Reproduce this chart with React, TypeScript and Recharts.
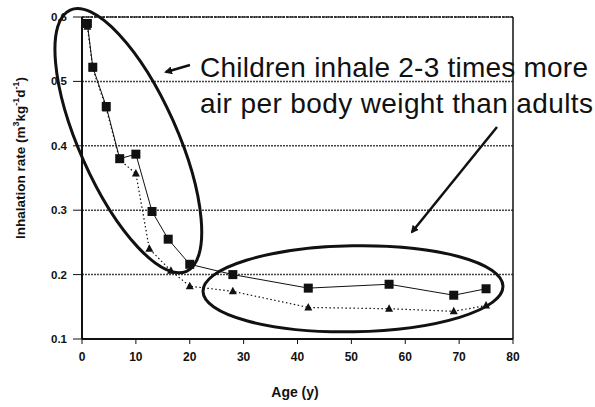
import React from "react";
import {
  ComposedChart,
  Line,
  XAxis,
  YAxis,
  CartesianGrid,
  ReferenceLine,
  ReferenceDot,
} from "recharts";

// values
const squareAges = [1, 2, 4.5, 7, 10, 13, 16, 20, 28, 42, 57, 69, 75];
const squareRates = [0.59, 0.522, 0.461, 0.38, 0.387, 0.298, 0.255, 0.216, 0.2, 0.179, 0.185, 0.168, 0.178];

const triangleAges = [1, 2, 4.5, 7, 10, 12.5, 16.5, 20, 28, 42, 57, 69, 75];
const triangleRates = [0.585, 0.52, 0.458, 0.378, 0.357, 0.24, 0.206, 0.182, 0.174, 0.149, 0.147, 0.143, 0.152];

const xTicks = [0, 10, 20, 30, 40, 50, 60, 70, 80];
const yTicks = [0.1, 0.2, 0.3, 0.4, 0.5, 0.6];

const squares = squareAges.map((age, i) => ({ age, rate: squareRates[i] }));
const triangles = triangleAges.map((age, i) => ({ age, rate: triangleRates[i] }));

const FONT = "'Liberation Sans', Arial, sans-serif";

const SquareDot = (props: any) => {
  const { cx, cy, index } = props;
  if (cx == null || cy == null) return null;
  return <rect key={`s${index}`} x={cx - 4.5} y={cy - 4.5} width={9} height={9} fill="#111" />;
};

const TriangleDot = (props: any) => {
  const { cx, cy, index } = props;
  if (cx == null || cy == null) return null;
  return (
    <path
      key={`t${index}`}
      d={`M${cx},${cy - 4.5} L${cx + 4},${cy + 3} L${cx - 4},${cy + 3} Z`}
      fill="#111"
    />
  );
};

const ellipseShape = (rx: number, ry: number, angle: number) => (props: any) => {
  const { cx, cy } = props;
  return (
    <ellipse
      cx={cx}
      cy={cy}
      rx={rx}
      ry={ry}
      transform={`rotate(${angle} ${cx} ${cy})`}
      fill="none"
      stroke="#111"
      strokeWidth={3}
    />
  );
};

export default function App() {
  return (
    <div style={{ position: "absolute", left: 0, top: 0, width: 595, height: 407, background: "#fff" }}>
      <ComposedChart
        width={595}
        height={407}
        margin={{ top: 17, right: 82, bottom: 38, left: 42 }}
      >
        <CartesianGrid
          horizontal
          vertical={false}
          stroke="#444"
          strokeWidth={1.5}
          strokeDasharray="2 1"
        />
        <XAxis
          type="number"
          dataKey="age"
          domain={[0, 80]}
          ticks={xTicks}
          allowDataOverflow
          height={30}
          axisLine={{ stroke: "#111", strokeWidth: 2 }}
          tickLine={{ stroke: "#111" }}
          tickSize={5}
          tickMargin={8}
          tick={{ fontSize: 12, fontWeight: "bold", fill: "#111", fontFamily: FONT }}
        />
        <YAxis
          type="number"
          dataKey="rate"
          domain={[0.1, 0.6]}
          ticks={yTicks}
          allowDataOverflow
          width={40}
          tickFormatter={(v: number) => v.toFixed(1)}
          axisLine={{ stroke: "#111", strokeWidth: 2 }}
          tickLine={{ stroke: "#111" }}
          tickSize={9}
          tickMargin={6}
          tick={{ fontSize: 11.5, fontWeight: "bold", fill: "#111", fontFamily: FONT }}
        />
        <ReferenceLine y={0.6} stroke="#222" strokeWidth={1.5} strokeDasharray="3 1" />
        <ReferenceLine x={80} stroke="#111" strokeWidth={1.5} />
        <Line
          data={squares}
          dataKey="rate"
          stroke="#111"
          strokeWidth={1}
          dot={SquareDot}
          activeDot={false}
          isAnimationActive={false}
        />
        <Line
          data={triangles}
          dataKey="rate"
          stroke="#111"
          strokeWidth={1.2}
          strokeDasharray="1.5 2.5"
          dot={TriangleDot}
          activeDot={false}
          isAnimationActive={false}
        />
        <ReferenceDot x={8.6} y={0.408} r={0} ifOverflow="visible" shape={ellipseShape(143, 49, 66)} />
        <ReferenceDot x={50.3} y={0.178} r={0} ifOverflow="visible" shape={ellipseShape(150, 43, -1)} />
      </ComposedChart>
      <svg
        width={595}
        height={407}
        style={{ position: "absolute", left: 0, top: 0, pointerEvents: "none" }}
      >
        <defs>
          <marker id="head" markerWidth="8" markerHeight="8" refX="6" refY="4" orient="auto" markerUnits="userSpaceOnUse">
            <path d="M0,0 L8,4 L0,8 Z" fill="#111" />
          </marker>
        </defs>
        <line x1={190} y1={65} x2={166} y2={72} stroke="#111" strokeWidth={2.5} markerEnd="url(#head)" />
        <line x1={497} y1={127} x2={412} y2={232} stroke="#111" strokeWidth={2.5} markerEnd="url(#head)" />
        <text x={200} y={77} fontSize={28} fontFamily={FONT} fill="#111" textLength={388} lengthAdjust="spacing">
          Children  inhale  2-3  times more
        </text>
        <text x={200} y={113} fontSize={28} fontFamily={FONT} fill="#111" textLength={393} lengthAdjust="spacing">
          air per body weight than adults
        </text>
        <text
          x={20}
          y={158}
          transform="rotate(-90 20 158)"
          textAnchor="middle"
          dominantBaseline="central"
          fontSize={13.5}
          fontWeight="bold"
          fontFamily={FONT}
          fill="#111"
        >
          Inhalation rate (m<tspan dy={-4} fontSize={9}>3</tspan>
          <tspan dy={4}>kg</tspan>
          <tspan dy={-4} fontSize={9}>-1</tspan>
          <tspan dy={4}>d</tspan>
          <tspan dy={-4} fontSize={9}>-1</tspan>
          <tspan dy={4}>)</tspan>
        </text>
        <text x={295} y={397} textAnchor="middle" fontSize={14} fontWeight="bold" fontFamily={FONT} fill="#111">
          Age (y)
        </text>
      </svg>
    </div>
  );
}
